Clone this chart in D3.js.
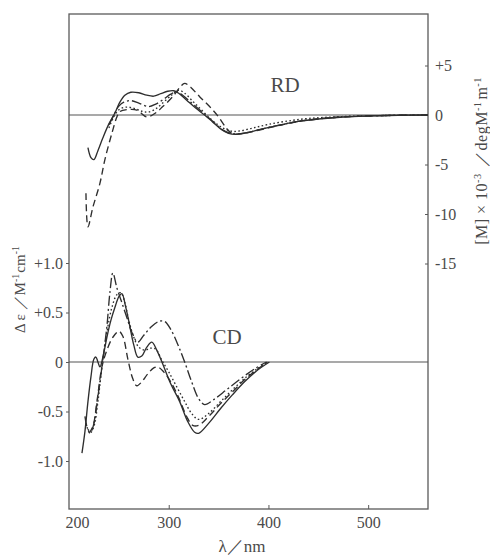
<!DOCTYPE html>
<html>
<head>
<meta charset="utf-8">
<script src="https://cdn.jsdelivr.net/npm/d3@7"></script>
<style>
  html, body { margin: 0; padding: 0; background: #fff; }
  svg { display: block; }
  text { font-family: "Liberation Serif", "DejaVu Serif", serif; fill: #4a4a4a; }
</style>
</head>
<body>
<svg id="chart" width="490" height="555"></svg>
<script>
// Rotatory dispersion, [M] x 10^-3 (right axis), pairs of [wavelength nm, value]
const rdSolid = [[219,-3.3],[222,-4.3],[225,-4.5],[229,-3.6],[234,-2.3],[240,-0.9],[246,0.2],[251,1.3],[256,2.0],[262,2.3],[270,2.25],[278,2.0],[285,1.9],[292,2.15],[299,2.4],[305,2.45],[310,2.2],[318,1.5],[327,0.7],[336,0.0],[344,-0.7],[352,-1.4],[360,-1.85],[367,-1.95],[378,-1.8],[392,-1.45],[410,-1.05],[430,-0.65],[450,-0.4],[475,-0.2],[500,-0.1],[530,-0.03],[560,0]];
const rdDashed = [[217,-7.9],[219,-11.3],[224,-9.3],[231,-6.9],[236,-4.5],[243,-1.85],[248,-0.2],[251,0.35],[259,0.55],[268,0.5],[278,-0.2],[286,0.15],[294,0.85],[304,1.85],[312,2.9],[316,3.2],[322,2.8],[331,1.85],[341,0.85],[350,-0.2],[358,-1.35],[364,-1.9],[372,-1.9],[385,-1.65],[400,-1.3],[420,-0.85],[440,-0.5],[465,-0.25],[495,-0.1],[530,-0.03],[560,0]];
const rdDashDot = [[240,-1.0],[245,0.0],[250,0.9],[255,1.3],[262,1.45],[270,1.2],[280,0.85],[287,1.1],[295,1.6],[302,2.1],[308,2.35],[314,2.0],[322,1.3],[330,0.6],[338,-0.1],[346,-0.8],[354,-1.5],[362,-1.85],[370,-1.9],[382,-1.7],[396,-1.35],[412,-1.0],[430,-0.65],[450,-0.4],[475,-0.2],[500,-0.1],[530,-0.03],[560,0]];
const rdDotted = [[240,-1.3],[246,0.0],[251,0.6],[258,0.8],[266,0.65],[274,0.35],[280,0.3],[288,0.7],[296,1.4],[304,2.1],[310,2.5],[316,2.2],[324,1.4],[332,0.6],[340,-0.2],[348,-0.9],[356,-1.4],[364,-1.65],[372,-1.6],[385,-1.3],[400,-0.95],[420,-0.6],[440,-0.35],[465,-0.2],[490,-0.1],[520,-0.05],[560,0]];

// Circular dichroism, Δε (left axis), pairs of [wavelength nm, value]
const cdSolid = [[213,-0.92],[216,-0.7],[219,-0.4],[222,-0.15],[225,0.03],[227,0.05],[229,0.0],[231,-0.05],[234,0.05],[238,0.25],[242,0.42],[246,0.55],[250,0.66],[253,0.69],[257,0.55],[261,0.36],[265,0.17],[269,0.05],[273,0.06],[278,0.15],[283,0.2],[288,0.12],[294,-0.02],[302,-0.22],[311,-0.4],[319,-0.6],[326,-0.71],[330,-0.72],[340,-0.62],[352,-0.47],[364,-0.33],[376,-0.2],[388,-0.09],[401,0]];
const cdDashed = [[220,-0.72],[224,-0.65],[228,-0.4],[233,-0.05],[238,0.12],[244,0.25],[250,0.31],[254,0.26],[259,0.03],[264,-0.17],[268,-0.24],[273,-0.2],[279,-0.12],[285,-0.06],[289,-0.05],[295,-0.1],[302,-0.2],[310,-0.36],[318,-0.55],[324,-0.64],[330,-0.64],[340,-0.55],[352,-0.42],[364,-0.3],[376,-0.18],[388,-0.08],[399,0]];
const cdDashDot = [[216,-0.55],[219,-0.68],[222,-0.7],[225,-0.62],[229,-0.35],[233,-0.05],[238,0.36],[241,0.7],[244,0.9],[248,0.75],[253,0.6],[258,0.45],[263,0.3],[269,0.2],[275,0.27],[282,0.35],[290,0.41],[296,0.41],[302,0.33],[309,0.18],[316,0.0],[323,-0.2],[330,-0.37],[336,-0.43],[345,-0.38],[358,-0.28],[372,-0.17],[386,-0.07],[398,0]];
const cdDotted = [[217,-0.62],[221,-0.72],[225,-0.65],[229,-0.4],[233,-0.05],[238,0.3],[243,0.55],[248,0.68],[252,0.7],[256,0.6],[260,0.42],[265,0.25],[270,0.15],[276,0.12],[282,0.14],[287,0.13],[293,0.02],[300,-0.1],[308,-0.25],[316,-0.4],[323,-0.52],[330,-0.58],[340,-0.52],[352,-0.4],[365,-0.27],[378,-0.15],[390,-0.06],[399,0]];

// Axis ticks
const wavelengthTicks = [200, 300, 400, 500];
const cdTicks = [1, 0.5, 0, -0.5, -1];
const cdTickLabels = ["+1.0", "+0.5", "0", "-0.5", "-1.0"];
const rdTicks = [5, 0, -5, -10, -15];
const rdTickLabels = ["+5", "0", "-5", "-10", "-15"];

const serif = '"Liberation Serif", "DejaVu Serif", serif';
const svg = d3.select("#chart").attr("font-family", serif);
const frame = { left: 69, right: 428, top: 14, bottom: 509 };

const x = d3.scaleLinear().domain([200, 560]).range([frame.left, frame.right]);
const yRD = d3.scaleLinear().domain([-15, 5]).range([263.5, 65.5]);
const yCD = d3.scaleLinear().domain([-1, 1]).range([461, 263]);

const ink = "#2e2e2e";
const frameInk = "#5a5a5a";

// plot frame
svg.append("rect")
  .attr("x", frame.left).attr("y", frame.top)
  .attr("width", frame.right - frame.left).attr("height", frame.bottom - frame.top)
  .attr("fill", "none").attr("stroke", frameInk).attr("stroke-width", 1.3);

// zero baselines
[yRD(0), yCD(0)].forEach(yy => {
  svg.append("line")
    .attr("x1", frame.left).attr("x2", frame.right)
    .attr("y1", yy).attr("y2", yy)
    .attr("stroke", "#555").attr("stroke-width", 1.1);
});

function styleAxis(g) {
  g.attr("font-family", serif).attr("font-size", 16);
  g.select(".domain").remove();
  g.selectAll(".tick line").attr("stroke", frameInk).attr("stroke-width", 1);
  g.selectAll(".tick text")
    .attr("fill", "#4a4a4a")
    .style("font-family", serif)
    .style("font-size", "16px");
}

// bottom wavelength axis, ticks pointing into the plot
const gx = svg.append("g")
  .attr("transform", `translate(0,${frame.bottom})`)
  .call(d3.axisBottom(x).tickValues(wavelengthTicks)
    .tickSizeInner(-4).tickSizeOuter(0).tickPadding(8).tickFormat(d3.format("d")));
styleAxis(gx);
gx.selectAll(".tick").filter(d => d === 200).select("text").attr("dx", 8);
gx.selectAll(".tick").filter(d => d === 200).select("line").remove();

// left Δε axis
const gl = svg.append("g")
  .attr("transform", `translate(${frame.left},0)`)
  .call(d3.axisLeft(yCD).tickValues(cdTicks)
    .tickSize(3).tickPadding(3).tickFormat((d, i) => cdTickLabels[i]));
styleAxis(gl);

// right [M] axis, ticks pointing into the plot
const gr = svg.append("g")
  .attr("transform", `translate(${frame.right},0)`)
  .call(d3.axisRight(yRD).tickValues(rdTicks)
    .tickSizeInner(-3).tickSizeOuter(0).tickPadding(7).tickFormat((d, i) => rdTickLabels[i]));
styleAxis(gr);

// spectra
const styles = {
  solid: null,
  dashed: "7,4",
  dashDot: "10,3,2,3",
  dotted: "1.6,2.4"
};

function drawSeries(data, yScale, dash) {
  const line = d3.line()
    .x(d => x(d[0]))
    .y(d => yScale(d[1]))
    .curve(d3.curveCatmullRom.alpha(0.5));
  svg.append("path")
    .datum(data)
    .attr("d", line)
    .attr("fill", "none")
    .attr("stroke", ink)
    .attr("stroke-width", 1.35)
    .attr("stroke-linejoin", "round")
    .attr("stroke-dasharray", dash);
}

drawSeries(rdSolid, yRD, styles.solid);
drawSeries(rdDashed, yRD, styles.dashed);
drawSeries(rdDashDot, yRD, styles.dashDot);
drawSeries(rdDotted, yRD, styles.dotted);

drawSeries(cdSolid, yCD, styles.solid);
drawSeries(cdDashed, yCD, styles.dashed);
drawSeries(cdDashDot, yCD, styles.dashDot);
drawSeries(cdDotted, yCD, styles.dotted);

// panel labels
svg.append("text").attr("x", 285).attr("y", 92)
  .attr("text-anchor", "middle").style("font-size", "21px").text("RD");
svg.append("text").attr("x", 227).attr("y", 343.5)
  .attr("text-anchor", "middle").style("font-size", "21px").text("CD");

// axis titles
svg.append("text").attr("x", 242).attr("y", 552)
  .attr("text-anchor", "middle").style("font-size", "17px").text("λ／nm");

function titleWithSup(parent, parts, size) {
  const t = parent.append("text").style("font-size", size + "px");
  parts.forEach(p => {
    if (p.sup) {
      t.append("tspan").attr("dy", -size * 0.38).style("font-size", (size * 0.65) + "px").text(p.sup);
      t.append("tspan").attr("dy", size * 0.38).text("\u200A");
    } else {
      t.append("tspan").text(p.t);
    }
  });
  return t;
}

const leftTitle = titleWithSup(svg, [
  { t: "Δ ε ／M" }, { sup: "-1" }, { t: "cm" }, { sup: "-1" }
], 15);
leftTitle.attr("text-anchor", "middle")
  .attr("transform", "translate(25,289) rotate(-90)");

const rightTitle = titleWithSup(svg, [
  { t: "[M] × 10" }, { sup: "-3" }, { t: " ／degM" }, { sup: "-1" }, { t: "m" }, { sup: "-1" }
], 16);
rightTitle.attr("text-anchor", "middle")
  .style("letter-spacing", "0.5px")
  .attr("transform", "translate(487,160) rotate(-90)");
</script>
</body>
</html>
